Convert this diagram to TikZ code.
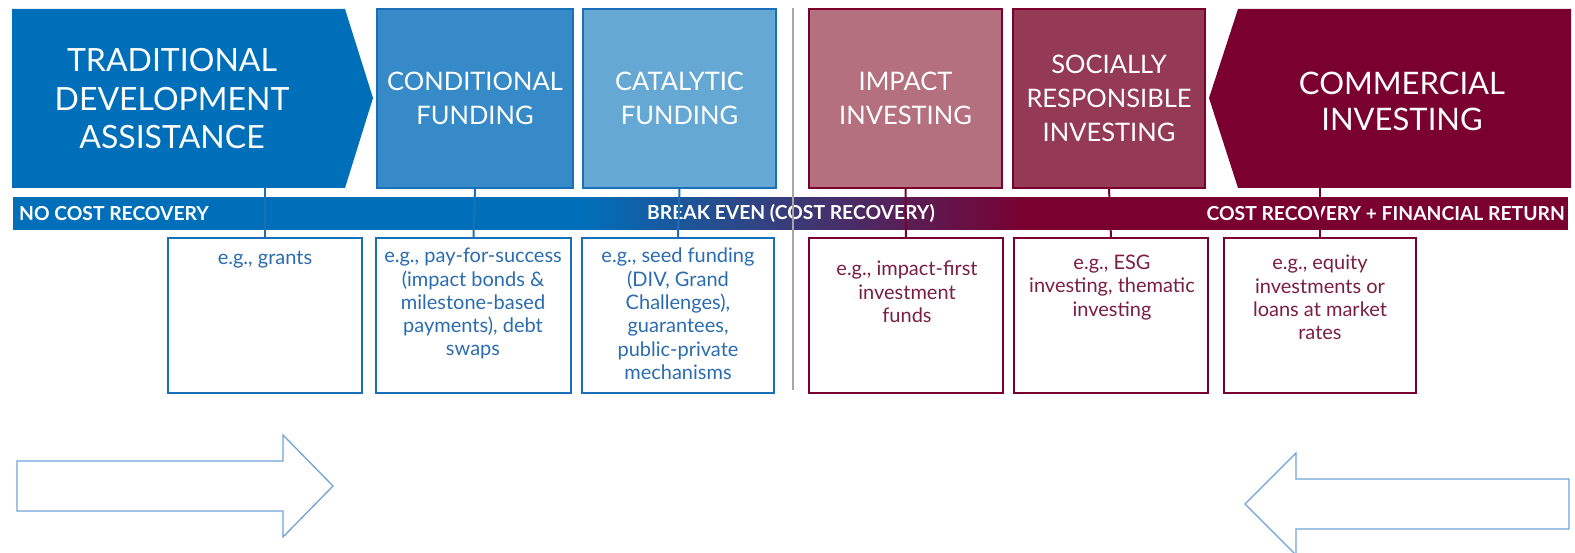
\documentclass[tikz,border=0pt]{standalone}
\usepackage{fontspec}
\setmainfont{Lato}
\usetikzlibrary{calc}
\definecolor{tdablue}{HTML}{006FB9}
\definecolor{cfblue}{HTML}{368AC7}
\definecolor{catblue}{HTML}{66A8D4}
\definecolor{lineblue}{HTML}{1A70B8}
\definecolor{txtblue}{HTML}{2B6CB0}
\definecolor{impink}{HTML}{B5707F}
\definecolor{srimaroon}{HTML}{953A55}
\definecolor{maroon}{HTML}{7A0030}
\definecolor{txtmaroon}{HTML}{7A1F42}
\definecolor{arrowblue}{HTML}{6FA3D8}
\definecolor{divgray}{HTML}{A6A6A6}
\begin{document}
\begin{tikzpicture}[x=1pt,y=-1pt,
  topbox/.style={draw, line width=2pt, minimum height=179pt, anchor=north west, inner sep=0pt, outer sep=0pt},
  lowbox/.style={draw, fill=white, line width=2pt, minimum height=155pt, anchor=north west, inner sep=0pt, outer sep=0pt},
  hdr/.style={text=white, align=center, inner sep=0pt, font=\fontsize{25.5}{34}\selectfont},
  bighdr/.style={text=white, align=center, inner sep=0pt, font=\fontsize{32}{38.5}\selectfont},
  bartxt/.style={text=white, inner sep=0pt, font=\bfseries\fontsize{19.3}{22}\selectfont},
  lowtxt/.style={align=center, inner sep=0pt, anchor=north, font=\fontsize{20}{23.3}\selectfont},
  bluelink/.style={draw=lineblue, line width=2pt},
  redlink/.style={draw=maroon, line width=2pt},
  bigarrow/.style={draw=arrowblue, line width=1.3pt, line join=miter},
]
\useasboundingbox (0,0) rectangle (1575,553);

% bar
\fill[tdablue] (13,197) rectangle (581,230);
\foreach \i in {0,...,89}{
  \pgfmathsetmacro\p{100-\i*100/89}
  \fill[tdablue!\p!maroon] (580+5*\i,197) rectangle (586+5*\i,230);
}
\fill[maroon] (1030,197) rectangle (1568,230);

% header shapes
\fill[tdablue] (12,9) -- (345,9) -- (373,98) -- (345,188) -- (12,188) -- cycle;
\fill[maroon] (1238,9) -- (1571,9) -- (1571,188) -- (1238,188) -- (1209,98) -- cycle;
\coordinate (tdabot) at (265,188);
\coordinate (combot) at (1320,188);
\node[bighdr] (tda) at (172,99) {TRADITIONAL\\DEVELOPMENT\\ASSISTANCE};
\node[bighdr, font=\fontsize{31}{36}\selectfont] (com) at (1402,101) {COMMERCIAL\\INVESTING};

\node[topbox, draw=lineblue, fill=cfblue, minimum width=196pt] (cf) at (377,9) {};
\node[topbox, draw=lineblue, fill=catblue, minimum width=193pt] (cat) at (583,9) {};
\node[topbox, draw=maroon, fill=impink, minimum width=193pt] (imp) at (809,9) {};
\node[topbox, draw=maroon, fill=srimaroon, minimum width=192pt] (sri) at (1013,9) {};
\node[hdr] (cft) at (cf.center) {CONDITIONAL\\FUNDING};
\node[hdr] (catt) at (cat.center) {CATALYTIC\\FUNDING};
\node[hdr] (impt) at (imp.center) {IMPACT\\INVESTING};
\node[hdr] (srit) at (sri.center) {SOCIALLY\\RESPONSIBLE\\INVESTING};

% bar labels
\node[bartxt, anchor=west] (b1) at (19,213.5) {NO COST RECOVERY};
\node[bartxt] (b2) at (791,213.5) {BREAK EVEN (COST RECOVERY)};
\node[bartxt, anchor=east] (b3) at (1565,213.5) {COST RECOVERY + FINANCIAL RETURN};

% lower boxes
\node[lowbox, draw=lineblue, minimum width=194pt] (grants) at (168,238) {};
\node[lowbox, draw=lineblue, minimum width=195pt] (pfs) at (376,238) {};
\node[lowbox, draw=lineblue, minimum width=192pt] (seed) at (582,238) {};
\node[lowbox, draw=maroon, minimum width=194pt] (ifirst) at (809,238) {};
\node[lowbox, draw=maroon, minimum width=194pt] (esg) at (1014,238) {};
\node[lowbox, draw=maroon, minimum width=192pt] (equity) at (1224,238) {};

\node[lowtxt, text=txtblue] (grantst) at (265,251) {e.g., grants};
\node[lowtxt, text=txtblue] (pfst) at (473,248) {e.g., pay-for-success\\(impact bonds \&\\milestone-based\\payments), debt\\swaps};
\node[lowtxt, text=txtblue] (seedt) at (678,248) {e.g., seed funding\\(DIV, Grand\\Challenges),\\guarantees,\\public-private\\mechanisms};
\node[lowtxt, text=txtmaroon] (ifirstt) at (907,261) {e.g., impact-first\\investment\\funds};
\node[lowtxt, text=txtmaroon] (esgt) at (1112,255) {e.g., ESG\\investing, thematic\\investing};
\node[lowtxt, text=txtmaroon] (equityt) at (1320,255) {e.g., equity\\investments or\\loans at market\\rates};

% connectors
\draw[bluelink] (grants.north) -- (tdabot);
\draw[bluelink] (pfs.north) -- (cf.south);
\draw[bluelink] (seed.north) -- (cat.south);
\draw[redlink] (ifirst.north) -- (imp.south);
\draw[redlink] (esg.north) -- (sri.south);
\draw[redlink] (equity.north) -- (combot);

% divider
\coordinate (divtop) at (793,8);
\coordinate (divbot) at (793,390);
\draw[divgray, line width=2.5pt] (divtop) -- (divbot);

% big arrows
\draw[bigarrow] (17,461) -- (283,461) -- (283,435) -- (333,486) -- (283,537) -- (283,511) -- (17,511) -- cycle;
\draw[bigarrow] (1569,479) -- (1296,479) -- (1296,453) -- (1245,504) -- (1296,555) -- (1296,529) -- (1569,529) -- cycle;
\end{tikzpicture}
\end{document}
